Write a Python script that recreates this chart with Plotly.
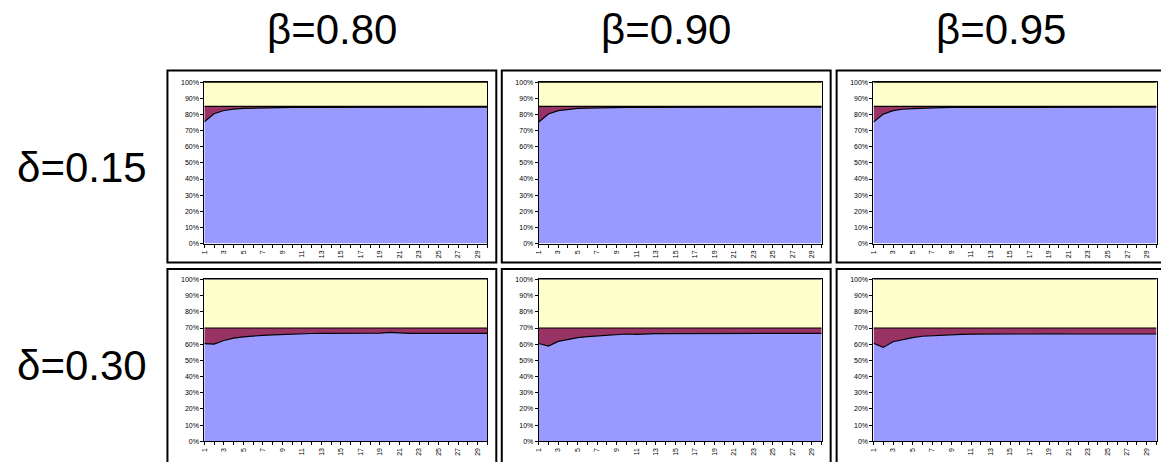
import plotly.graph_objects as go

W, H = 1161, 462

periods = list(range(1, 31))
betas = ["β=0.80", "β=0.90", "β=0.95"]
deltas = ["δ=0.15", "δ=0.30"]
y_ticks = [0, 10, 20, 30, 40, 50, 60, 70, 80, 90, 100]
y_labels = [f"{v}%" for v in y_ticks]
x_labels = [str(p) if p % 2 == 1 else "" for p in periods]

# Blue (bottom) share, %, per panel
blue_d15_b80 = [75.4, 80.4, 82.4, 83.3, 83.7, 83.9, 84.1, 84.2, 84.3, 84.3, 84.4, 84.4, 84.5, 84.4, 84.5,
                84.5, 84.5, 84.5, 84.5, 84.5, 84.5, 84.5, 84.5, 84.5, 84.5, 84.5, 84.5, 84.5, 84.5, 84.5]
blue_d15_b90 = [75.3, 80.3, 82.3, 83.2, 83.7, 83.9, 84.1, 84.2, 84.3, 84.3, 84.4, 84.4, 84.4, 84.5, 84.5,
                84.5, 84.5, 84.5, 84.5, 84.5, 84.5, 84.5, 84.5, 84.5, 84.5, 84.5, 84.5, 84.5, 84.5, 84.5]
blue_d15_b95 = [75.2, 80.2, 82.3, 83.2, 83.6, 83.9, 84.1, 84.2, 84.3, 84.3, 84.4, 84.4, 84.4, 84.5, 84.5,
                84.5, 84.5, 84.5, 84.5, 84.5, 84.5, 84.5, 84.5, 84.5, 84.5, 84.5, 84.5, 84.5, 84.5, 84.5]
blue_d30_b80 = [60.4, 60.0, 62.3, 63.7, 64.5, 65.1, 65.5, 65.8, 66.1, 66.3, 66.5, 66.6, 66.7, 66.7, 66.7,
                66.7, 66.7, 66.7, 66.8, 67.3, 66.8, 66.7, 66.7, 66.7, 66.7, 66.7, 66.7, 66.7, 66.7, 66.7]
blue_d30_b90 = [60.4, 58.8, 61.7, 63.1, 64.1, 64.7, 65.1, 65.4, 65.7, 66.3, 66.1, 66.5, 66.5, 66.5, 66.5,
                66.5, 66.7, 66.5, 66.5, 66.5, 66.5, 66.5, 66.7, 66.5, 66.7, 66.5, 66.5, 66.7, 66.7, 66.7]
blue_d30_b95 = [60.6, 58.0, 61.5, 62.9, 64.1, 64.9, 65.3, 65.7, 65.9, 66.1, 66.2, 66.3, 66.3, 66.3, 66.3,
                66.3, 66.3, 66.4, 66.7, 66.4, 66.3, 66.3, 66.6, 66.4, 66.3, 66.5, 66.3, 66.6, 66.4, 66.3]

# Maroon (middle) share, %, per panel
maroon_d15_b80 = [9.6, 4.6, 2.6, 1.7, 1.3, 1.1, 0.9, 0.8, 0.7, 0.7, 0.6, 0.6, 0.5, 0.6, 0.5,
                  0.5, 0.5, 0.5, 0.5, 0.5, 0.5, 0.5, 0.5, 0.5, 0.5, 0.5, 0.5, 0.5, 0.5, 0.5]
maroon_d15_b90 = [9.7, 4.7, 2.7, 1.8, 1.3, 1.1, 0.9, 0.8, 0.7, 0.7, 0.6, 0.6, 0.6, 0.5, 0.5,
                  0.5, 0.5, 0.5, 0.5, 0.5, 0.5, 0.5, 0.5, 0.5, 0.5, 0.5, 0.5, 0.5, 0.5, 0.5]
maroon_d15_b95 = [9.8, 4.8, 2.7, 1.8, 1.4, 1.1, 0.9, 0.8, 0.7, 0.7, 0.6, 0.6, 0.6, 0.5, 0.5,
                  0.5, 0.5, 0.5, 0.5, 0.5, 0.5, 0.5, 0.5, 0.5, 0.5, 0.5, 0.5, 0.5, 0.5, 0.5]
maroon_d30_b80 = [9.6, 10.0, 7.7, 6.3, 5.5, 4.9, 4.5, 4.0, 3.9, 3.7, 3.5, 3.4, 3.3, 3.3, 3.3,
                  3.3, 3.3, 3.3, 3.2, 2.7, 3.2, 3.1, 3.3, 3.3, 3.3, 3.3, 3.3, 3.3, 3.3, 3.3]
maroon_d30_b90 = [9.6, 11.2, 8.3, 6.9, 5.9, 5.3, 4.9, 4.6, 4.3, 3.7, 3.7, 3.5, 3.5, 3.5, 3.5,
                  3.3, 3.3, 3.5, 3.5, 3.5, 3.3, 3.5, 3.3, 3.5, 3.3, 3.5, 3.3, 3.3, 3.3, 3.3]
maroon_d30_b95 = [9.4, 12.0, 8.5, 6.9, 5.9, 5.1, 4.7, 4.3, 4.1, 3.9, 3.8, 3.5, 3.7, 3.7, 3.7,
                  3.7, 3.7, 3.6, 3.3, 3.6, 3.7, 3.7, 3.4, 3.6, 3.7, 3.5, 3.7, 3.4, 3.6, 3.7]

panels = [
    [(blue_d15_b80, maroon_d15_b80), (blue_d15_b90, maroon_d15_b90), (blue_d15_b95, maroon_d15_b95)],
    [(blue_d30_b80, maroon_d30_b80), (blue_d30_b90, maroon_d30_b90), (blue_d30_b95, maroon_d30_b95)],
]

BLUE, MAROON, YELLOW = "#9999FF", "#993366", "#FFFFCC"

box_left = [164, 499.5, 835.5]
box_w = 330
row_box = [(67.5, 262.5), (269.0, 472.0)]
row_plot = [(79.3, 243.3), (279.7, 444.0)]

fig = go.Figure()
layout = dict(width=W, height=H, margin=dict(l=0, r=0, t=0, b=0),
              paper_bgcolor="white", plot_bgcolor="white", showlegend=False,
              font=dict(family="Liberation Sans, Arial, sans-serif", color="black"))
shapes = []
annotations = []
tickfont = dict(size=7, family="Liberation Sans, Arial", color="black")
idx = 0
for r in range(2):
    for c in range(3):
        idx += 1
        blue, maroon = panels[r][c]
        yellow = [100 - b - m for b, m in zip(blue, maroon)]
        xa = "x" if idx == 1 else f"x{idx}"
        ya = "y" if idx == 1 else f"y{idx}"
        for vals, col in ((blue, BLUE), (maroon, MAROON), (yellow, YELLOW)):
            fig.add_trace(go.Scatter(x=periods, y=vals, mode="lines", stackgroup=f"s{idx}",
                                     line=dict(color="black", width=1.2), fillcolor=col,
                                     xaxis=xa, yaxis=ya, hoverinfo="skip"))
        pl = box_left[c] + 37
        pr = box_left[c] + 321
        top, bot = row_plot[r]
        key = "" if idx == 1 else str(idx)
        layout["xaxis" + key] = dict(domain=[pl / W, pr / W], anchor=ya, range=[1, 30],
                                     tickmode="array", tickvals=periods, ticktext=x_labels,
                                     tickangle=-90, ticks="outside", ticklen=3, tickwidth=1,
                                     tickcolor="black", showline=True, linecolor="black",
                                     linewidth=1, mirror=True, showgrid=False, zeroline=False,
                                     tickfont=tickfont)
        layout["yaxis" + key] = dict(domain=[1 - bot / H, 1 - top / H], anchor=xa, range=[0, 100],
                                     tickmode="array", tickvals=y_ticks, ticktext=y_labels,
                                     ticks="outside", ticklen=3, tickwidth=1, tickcolor="black",
                                     showline=True, linecolor="black", linewidth=1, mirror=True,
                                     showgrid=False, zeroline=False, tickfont=tickfont)
        bt, bb = row_box[r]
        shapes.append(dict(type="rect", xref="paper", yref="paper",
                           x0=box_left[c] / W, x1=(box_left[c] + box_w) / W,
                           y0=1 - bb / H, y1=1 - bt / H,
                           line=dict(color="black", width=2), fillcolor="rgba(0,0,0,0)",
                           layer="below"))

for c, t in enumerate(betas):
    annotations.append(dict(text=t, xref="paper", yref="paper",
                            x=(box_left[c] + box_w / 2) / W, y=1 - 26 / H,
                            xanchor="center", yanchor="middle", showarrow=False,
                            font=dict(size=42, family="Liberation Sans, Arial", color="black")))
for r, t in enumerate(deltas):
    yc = (row_box[r][0] + min(row_box[r][1], 463)) / 2
    annotations.append(dict(text=t, xref="paper", yref="paper",
                            x=78 / W, y=1 - (yc + 1) / H,
                            xanchor="center", yanchor="middle", showarrow=False,
                            font=dict(size=42, family="Liberation Sans, Arial", color="black")))

layout["shapes"] = shapes
layout["annotations"] = annotations
fig.update_layout(**layout)
fig.write_html("out.html", config={"displayModeBar": False},
               post_script="document.body.style.margin='0';document.body.style.padding='0';"
                           "document.documentElement.style.overflow='hidden';")
